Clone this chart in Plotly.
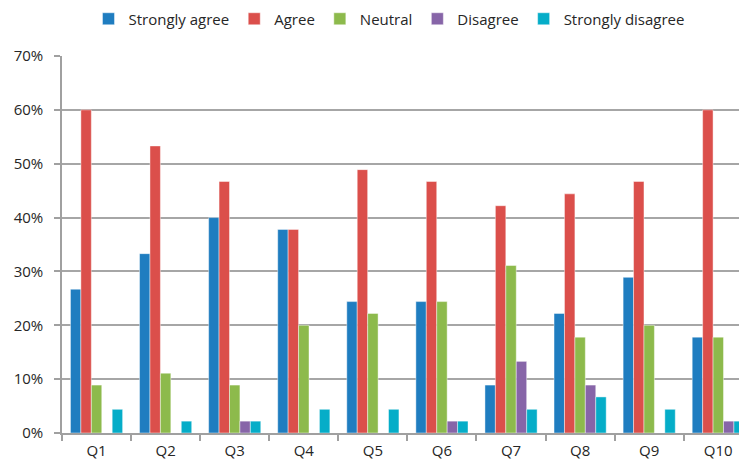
import plotly.graph_objects as go

questions = ["Q1", "Q2", "Q3", "Q4", "Q5", "Q6", "Q7", "Q8", "Q9", "Q10"]

# Share of respondents (%) per answer, per question
strongly_agree = [26.7, 33.3, 40.0, 37.8, 24.4, 24.4, 8.9, 22.2, 28.9, 17.8]
agree = [60.0, 53.3, 46.7, 37.8, 48.9, 46.7, 42.2, 44.4, 46.7, 60.0]
neutral = [8.9, 11.1, 8.9, 20.0, 22.2, 24.4, 31.1, 17.8, 20.0, 17.8]
disagree = [0.0, 0.0, 2.2, 0.0, 0.0, 2.2, 13.3, 8.9, 0.0, 2.2]
strongly_disagree = [4.4, 2.2, 2.2, 4.4, 4.4, 2.2, 4.4, 6.7, 4.4, 2.2]

series = [
    ("Strongly agree", strongly_agree, "#1F7DC0"),
    ("Agree", agree, "#DB4F4B"),
    ("Neutral", neutral, "#8DBA4C"),
    ("Disagree", disagree, "#8765A8"),
    ("Strongly disagree", strongly_disagree, "#05ADC8"),
]

y_ticks = [0, 10, 20, 30, 40, 50, 60, 70]

fig = go.Figure()
for name, vals, color in series:
    fig.add_trace(go.Bar(
        name=name, x=questions, y=vals,
        marker=dict(color=color, line=dict(color="rgba(255,255,255,0.55)", width=0.8)),
    ))

font_family = "Open Sans, Noto Sans, sans-serif"

fig.update_layout(
    width=739, height=464,
    margin=dict(l=62, r=0, t=56, b=31),
    paper_bgcolor="white", plot_bgcolor="white",
    barmode="group", bargap=0.245, bargroupgap=0,
    font=dict(family=font_family, size=15, color="#262626"),
    legend=dict(
        orientation="h", x=0.483, xanchor="center",
        yref="container", y=0.959, yanchor="middle",
        font=dict(size=15), itemwidth=30,
        traceorder="normal",
    ),
    showlegend=True,
)
fig.update_xaxes(
    type="category", range=[-0.5, 9.3],
    showline=True, linecolor="#A0A0A0", linewidth=1.5,
    ticks="outside", tickson="boundaries", ticklen=6, tickcolor="#A0A0A0", tickwidth=1.5,
    ticklabelstandoff=3,
    showgrid=False, tickfont=dict(size=15),
)
fig.update_yaxes(
    range=[0, 70], tickvals=y_ticks, ticktext=[f"{v}%" for v in y_ticks],
    showline=True, linecolor="#A0A0A0", linewidth=1.5,
    ticks="outside", ticklen=6, tickcolor="#A0A0A0", tickwidth=1.5,
    ticklabelstandoff=8,
    showgrid=True, gridcolor="#A6A6A6", gridwidth=1.5,
    zeroline=False, tickfont=dict(size=15),
)

fig.write_html("out.html")
